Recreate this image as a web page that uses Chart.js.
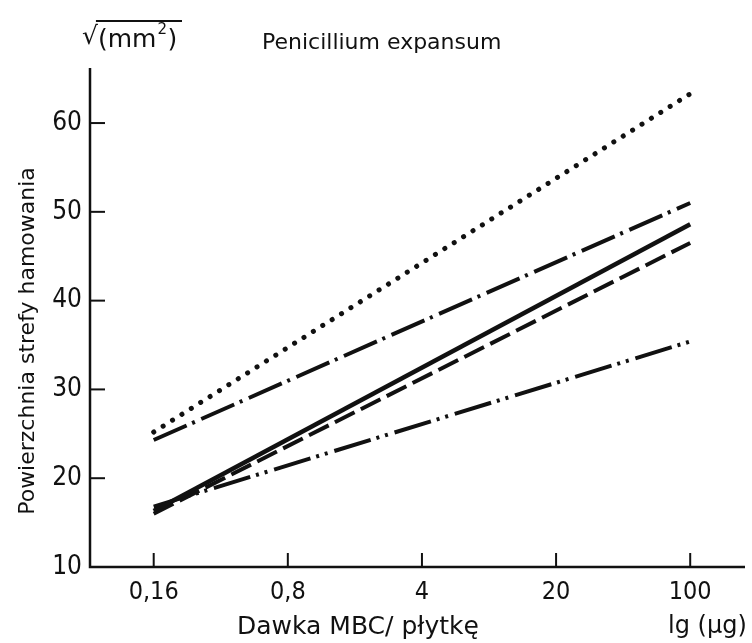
<!DOCTYPE html>
<html>
<head>
<meta charset="utf-8">
<script src="https://cdn.jsdelivr.net/npm/chart.js@4"></script>
<style>
  body { margin: 0; background: #fff; }
  canvas { display: block; }
</style>
</head>
<body>
<canvas id="myChart" width="752" height="643"></canvas>
<script>
const NARROW = "'DejaVu Sans Condensed', 'Liberation Sans Narrow', 'DejaVu Sans', sans-serif"
const WIDE = "'DejaVu Sans', sans-serif"

// dose per plate (µg), log axis
const doses = [0.16, 100]
const xTicks = [0.16, 0.8, 4, 20, 100]
const yTicks = [10, 20, 30, 40, 50, 60]

// sqrt of inhibition zone area, sqrt(mm2)
const dotted = [25.2, 63.3]
const dashDot = [24.3, 51.0]
const solid = [16.3, 48.6]
const dashed = [16.0, 46.5]
const dashDotDot = [16.8, 35.4]

const toPoints = arr => arr.map((v, i) => ({ x: doses[i], y: v }))

function line(values, dash, width, cap) {
  return {
    data: toPoints(values),
    borderColor: '#111',
    borderWidth: width,
    borderDash: dash,
    borderCapStyle: cap || 'butt',
    pointRadius: 0,
    fill: false,
    tension: 0
  }
}

// axes, inner tick marks and the free text labels
const decor = {
  id: 'decor',
  afterDraw(chart) {
    const c = chart.ctx
    const xs = chart.scales.x
    const ys = chart.scales.y
    const area = chart.chartArea
    c.save()
    c.strokeStyle = '#111'
    c.lineWidth = 2.5
    c.beginPath()
    c.moveTo(area.left, area.top)
    c.lineTo(area.left, area.bottom)
    c.lineTo(area.right, area.bottom)
    c.stroke()

    c.lineWidth = 2
    xTicks.forEach(v => {
      const px = xs.getPixelForValue(v)
      c.beginPath()
      c.moveTo(px, area.bottom)
      c.lineTo(px, area.bottom - 14)
      c.stroke()
    })
    yTicks.slice(1).forEach(v => {
      const py = ys.getPixelForValue(v)
      c.beginPath()
      c.moveTo(area.left, py)
      c.lineTo(area.left + 15, py)
      c.stroke()
    })

    c.fillStyle = '#111'
    c.textBaseline = 'middle'
    c.textAlign = 'left'
    c.font = '22px ' + WIDE
    c.fillText('Penicillium expansum', 262, 43)
    c.font = '25px ' + WIDE
    c.fillText('Dawka MBC/ p\u0142ytk\u0119', 237, 627)
    c.font = '24px ' + WIDE
    c.fillText('lg (\u00B5g)', 668, 627)

    // unit: square root of mm2, radical with a bar over it
    c.font = '25px ' + WIDE
    c.fillText('\u221A', 82, 37)
    const rw = c.measureText('\u221A').width
    c.fillText('(mm', 82 + rw, 40)
    const w = c.measureText('(mm').width
    c.font = '15px ' + WIDE
    c.fillText('2', 82 + rw + w + 1, 30)
    c.font = '25px ' + WIDE
    c.fillText(')', 82 + rw + w + 11, 40)
    c.lineWidth = 2
    c.beginPath()
    c.moveTo(82 + rw - 2, 21)
    c.lineTo(182, 21)
    c.stroke()

    c.translate(28, 341)
    c.rotate(-Math.PI / 2)
    c.textAlign = 'center'
    c.font = '22px ' + WIDE
    c.fillText('Powierzchnia strefy hamowania', 0, 0)
    c.restore()
  }
}

const config = {
  type: 'line',
  data: {
    datasets: [
      line(dotted, [0.1, 11], 5, 'round'),
      line(dashDot, [36, 6, 3, 7], 4),
      line(solid, [], 4.5),
      line(dashed, [22, 7], 4),
      line(dashDotDot, [38, 6, 3, 6, 3, 7], 4)
    ]
  },
  options: {
    responsive: false,
    animation: false,
    layout: { padding: { top: 68, right: 7, left: 0, bottom: 0 } },
    plugins: { legend: { display: false }, tooltip: { enabled: false } },
    scales: {
      x: {
        type: 'logarithmic',
        min: 0.0745,
        max: 193,
        afterBuildTicks: s => { s.ticks = xTicks.map(v => ({ value: v })) },
        afterFit: s => { s.height = 76 },
        grid: { display: false },
        border: { display: false },
        ticks: {
          color: '#111',
          font: { family: NARROW, size: 25 },
          padding: 2,
          maxRotation: 0,
          autoSkip: false,
          callback: v => String(v).replace('.', ',')
        }
      },
      y: {
        min: 10,
        max: 66.2,
        afterBuildTicks: s => { s.ticks = yTicks.map(v => ({ value: v })) },
        afterFit: s => { s.width = 90 },
        grid: { display: false },
        border: { display: false },
        ticks: {
          color: '#111',
          font: { family: NARROW, size: 26 },
          padding: 0
        }
      }
    }
  },
  plugins: [decor]
}

const myChart = new Chart(document.getElementById('myChart'), config)
</script>
</body>
</html>
